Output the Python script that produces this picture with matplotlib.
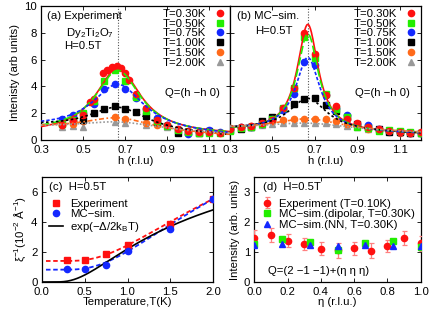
import numpy as np
import matplotlib
matplotlib.use("Agg")
import matplotlib.pyplot as plt

plt.rcParams['font.family'] = ['Liberation Sans', 'DejaVu Sans']
plt.rcParams['mathtext.fontset'] = 'custom'
plt.rcParams['mathtext.rm'] = 'Liberation Sans'
plt.rcParams['mathtext.it'] = 'Liberation Sans:italic'
FS = 8.2

# ---------------- data ----------------
temps = ["T=0.30K", "T=0.50K", "T=0.75K", "T=1.00K", "T=1.50K", "T=2.00K"]
colors = ["#ff1010", "#22ee00", "#1428ff", "#000000", "#ff6a1a", "#999999"]
markers = ["o", "s", "o", "s", "o", "^"]
lstyles = ["-", (0, (5, 2)), (0, (2, 1.2)), (0, (1.5, 1.5)), (0, (3, 1.5, 1, 1.5)), (0, (1, 1.2))]

# panel (a) experiment points
a_h = [
    [0.40, 0.45, 0.50, 0.533, 0.55, 0.597, 0.616, 0.637, 0.66, 0.68, 0.70, 0.72, 0.75, 0.80, 0.85, 0.90, 0.95, 1.00, 1.05, 1.10, 1.15],
    [0.40, 0.45, 0.50, 0.55, 0.60, 0.65, 0.70, 0.75, 0.80, 0.85, 0.90, 0.95, 1.00, 1.05, 1.10, 1.15],
    [0.40, 0.45, 0.50, 0.55, 0.60, 0.65, 0.70, 0.75, 0.80, 0.85, 0.90, 0.95, 1.00, 1.05, 1.10, 1.15],
    [0.45, 0.50, 0.55, 0.60, 0.65, 0.70, 0.75, 0.80, 0.85, 0.95, 1.00, 1.05, 1.10],
    [0.40, 0.45, 0.50, 0.65, 0.70, 0.80, 0.85, 0.90],
    [0.40, 0.45, 0.50, 0.65, 0.70, 0.80, 0.90],
]
a_I = [
    [1.15, 1.45, 1.9, 2.85, 3.05, 4.98, 5.2, 5.45, 5.5, 5.4, 4.98, 4.5, 3.4, 2.4, 1.5, 1.15, 0.85, 0.65, 0.6, 0.6, 0.55],
    [1.2, 1.5, 2.0, 2.9, 4.4, 5.2, 4.4, 3.2, 2.2, 1.45, 1.05, 0.75, 0.6, 0.55, 0.55, 0.55],
    [1.55, 1.85, 2.0, 2.7, 3.8, 4.15, 3.8, 3.1, 2.3, 1.65, 1.1, 0.85, 0.45, 0.6, 0.75, 0.6],
    [1.6, 1.5, 2.05, 2.35, 2.5, 2.3, 2.1, 1.8, 1.35, 0.55, 0.6, 0.55, 0.65],
    [1.1, 1.2, 1.45, 1.7, 1.6, 1.3, 1.15, 1.1],
    [1.0, 1.05, 0.95, 1.35, 1.25, 1.1, 1.0],
]
# Lorentzian fit parameters (panel a): amplitude, hwhm, background at h=0.3, background at h=1.2
a_amp = [4.95, 4.7, 3.5, 1.75, 1.0, 0.65]
a_wid = [0.13, 0.13, 0.15, 0.17, 0.20, 0.25]
a_bg0 = [0.45, 0.6, 0.9, 1.0, 0.9, 0.9]
a_bg1 = [0.35, 0.35, 0.3, 0.25, 0.3, 0.4]

# panel (b) MC simulation points
b_hgrid = [0.30, 0.35, 0.40, 0.45, 0.50, 0.55, 0.60, 0.65, 0.70, 0.75, 0.80, 0.85, 0.90, 0.95, 1.00, 1.05, 1.10, 1.15, 1.20]
b_I = [
    [0.85, 1.0, 1.05, 1.25, 1.5, 2.4, 3.85, 8.0, 6.45, 3.35, 2.5, 1.6, 1.3, 0.95, 0.8, 0.7, 0.6, 0.55, 0.6],
    [0.7, 0.9, 1.0, 1.2, 1.55, 2.4, 3.9, 7.7, 6.1, 3.4, 2.3, 1.7, 1.0, 0.9, 0.7, 0.75, 0.65, 0.6, 0.55],
    [0.8, 0.95, 1.0, 1.2, 1.6, 2.25, 3.45, 5.85, 5.6, 3.35, 2.4, 1.85, 1.2, 1.1, 0.8, 0.7, 0.6, 0.55, 0.5],
    [0.75, 0.8, 1.0, 1.45, 1.75, 2.3, 2.7, 3.05, 3.1, 2.6, 2.15, 1.7, 1.2, 0.95, 0.8, 0.6, 0.6, 0.55, 0.5],
    [0.9, 0.95, 1.05, 1.2, 1.45, 1.5, 1.55, 1.6, 1.6, 1.55, 1.45, 1.2, 1.05, 0.85, 0.75, 0.6, 0.55, 0.55, 0.5],
    [0.85, 0.95, 1.0, 1.1, 1.2, 1.25, 1.25, 1.3, 1.3, 1.25, 1.2, 1.05, 0.95, 0.85, 0.75, 0.65, 0.6, 0.55, 0.5],
]
b_amp = [8.0, 7.3, 5.5, 2.45, 0.9, 0.55]
b_wid = [0.06, 0.062, 0.07, 0.11, 0.20, 0.25]
b_bg0 = [0.75, 0.75, 0.8, 0.8, 0.8, 0.85]
b_bg1 = [0.45, 0.45, 0.45, 0.45, 0.5, 0.5]
h_center = 2.0 / 3.0

# panel (c)
c_T = [0.3, 0.5, 0.75, 1.0, 1.5, 2.0]
c_exp = [1.44, 1.48, 1.88, 2.48, 3.88, 5.55]
c_mc = [0.84, 0.89, 1.11, 2.07, 3.56, 5.55]
# fit parameters: offset + c*exp(-D/T)
c_fit_exp = [1.4, 16.4, 2.75]
c_fit_mc = [0.82, 18.2, 2.7]
c_gap = [10.5, 3.12]   # amplitude, Delta for exp(-Delta/2kT)

# panel (d)
d_eta_exp = [0.0, 0.1, 0.2, 0.3, 0.4, 0.5, 0.6, 0.7, 0.8, 0.9, 1.0]
d_exp = [1.48, 1.57, 1.38, 1.28, 1.11, 1.06, 1.12, 1.05, 1.19, 1.47, 1.30]
d_err = [0.25, 0.23, 0.22, 0.2, 0.22, 0.25, 0.22, 0.24, 0.2, 0.23, 0.25]
d_eta_mc = [0.0, 1/6, 1/3, 0.5, 2/3, 5/6, 1.0]
d_dip = [1.27, 1.44, 1.32, 1.06, 1.29, 1.38, 1.18]
d_nn = [1.22, 1.26, 1.24, 1.20, 1.22, 1.21, 1.20]

# ---------------- figure ----------------
W, H = 436, 317
fig = plt.figure(figsize=(W / 100, H / 100), dpi=100)


def box(x0, x1, ytop, ybot):
    return [x0 / W, 1 - ybot / H, (x1 - x0) / W, (ybot - ytop) / H]


def style(ax):
    ax.tick_params(direction='in', top=True, right=True, labelsize=FS, length=3, width=0.6, pad=2.5)
    ax.tick_params(axis='x', pad=3.5)
    ax.tick_params(axis='y', pad=3)
    for s in ax.spines.values():
        s.set_linewidth(0.9)


def lorentz(h, amp, wid, bg0, bg1):
    bg = bg0 + (bg1 - bg0) * (h - 0.3) / 0.9
    return bg + amp / (1 + ((h - h_center) / wid) ** 2)


hh = np.linspace(0.3, 1.2, 400)

ax_a = fig.add_axes(box(41, 230, 6, 140))
ax_b = fig.add_axes(box(230, 421, 6, 140))
for k, (ax, panel) in enumerate([(ax_a, 'a'), (ax_b, 'b')]):
    ax.axvline(h_center, color='#555555', ls=(0, (1, 1.5)), lw=0.8, zorder=1)
    for i in range(6):
        if panel == 'a':
            xs, ys = a_h[i], a_I[i]
            pars = (a_amp[i], a_wid[i], a_bg0[i], a_bg1[i])
        else:
            xs, ys = b_hgrid, b_I[i]
            pars = (b_amp[i], b_wid[i], b_bg0[i], b_bg1[i])
        ms = 4.5 if markers[i] != '^' else 4
        ax.plot(xs, ys, ls='none', marker=markers[i], color=colors[i], ms=ms,
                label=temps[i], zorder=3 + (6 - i) * 0.1)
        ax.plot(hh, lorentz(hh, *pars), ls=lstyles[i], color=colors[i], lw=1.2, zorder=4)
    ax.set_xlim(0.3, 1.2)
    ax.set_ylim(0, 10)
    ax.set_xticks([0.3, 0.5, 0.7, 0.9, 1.1])
    ax.set_xticklabels(['0.3', '0.5', '0.7', '0.9', '1.1'])
    ax.set_yticks([0, 2, 4, 6, 8, 10])
    style(ax)
    ax.set_xlabel('h (r.l.u)', fontsize=FS, labelpad=1)
    leg = ax.legend(loc='upper right', bbox_to_anchor=(1.0, 1.03), frameon=False, fontsize=FS,
                    markerfirst=False, handlelength=0.6, handletextpad=0.9, labelspacing=-0.02,
                    borderaxespad=0.2)
    ax.text(0.655, 0.33, 'Q=(h \u2212h 0)', transform=ax.transAxes, fontsize=FS)

ax_a.set_ylabel('Intenisty (arb units)', fontsize=FS, labelpad=3)
ax_b.set_yticklabels([])
ax_a.text(0.03, 0.96, '(a) Experiment', transform=ax_a.transAxes, fontsize=FS, va='top')
ax_a.text(0.13, 0.85, 'Dy$_2$Ti$_2$O$_7$', transform=ax_a.transAxes, fontsize=FS, va='top')
ax_a.text(0.12, 0.74, 'H=0.5T', transform=ax_a.transAxes, fontsize=FS, va='top')
ax_b.text(0.035, 0.96, '(b) MC\u2212sim.', transform=ax_b.transAxes, fontsize=FS, va='top')
ax_b.text(0.13, 0.85, 'H=0.5T', transform=ax_b.transAxes, fontsize=FS, va='top')

# panel (c)
ax_c = fig.add_axes(box(41.7, 213.3, 177, 282))
TT = np.linspace(0.05, 2.0, 300)
TT2 = np.linspace(0.02, 2.0, 300)
ax_c.plot(TT, c_fit_exp[0] + c_fit_exp[1] * np.exp(-c_fit_exp[2] / TT), color='#ff1010',
          ls=(0, (2.5, 1.5)), lw=1.3, zorder=2)
ax_c.plot(TT, c_fit_mc[0] + c_fit_mc[1] * np.exp(-c_fit_mc[2] / TT), color='#1428ff',
          ls=(0, (2.5, 1.5)), lw=1.3, zorder=2)
ax_c.plot(c_T, c_exp, ls='none', marker='s', color='#ff1010', ms=4.5, label='Experiment', zorder=3)
ax_c.plot(c_T, c_mc, ls='none', marker='o', color='#1428ff', ms=4.5, label='MC\u2212sim.', zorder=3)
ax_c.plot(TT2, c_gap[0] * np.exp(-c_gap[1] / (2 * TT2)), color='black', lw=1.2,
          label='exp(\u2212\u0394/2k$_\\mathregular{B}$T)', zorder=2)
ax_c.set_xlim(0, 2.0)
ax_c.set_ylim(0, 7)
ax_c.set_xticks([0, 0.5, 1.0, 1.5, 2.0])
ax_c.set_xticklabels(['0.0', '0.5', '1.0', '1.5', '2.0'])
ax_c.set_yticks([0, 2, 4, 6])
style(ax_c)
ax_c.set_xlabel('Temperature,T(K)', fontsize=FS, labelpad=0)
ax_c.set_ylabel('\u03be$^{\\mathregular{-1}}$(10$^{\\mathregular{-2}}$ \u00c5$^{\\mathregular{-1}}$)',
                fontsize=FS, labelpad=2)
ax_c.text(0.04, 0.95, '(c)  H=0.5T', transform=ax_c.transAxes, fontsize=FS, va='top')
ax_c.legend(loc='upper left', bbox_to_anchor=(0.0, 0.86), frameon=False, fontsize=FS,
            handlelength=1.3, handletextpad=0.6, labelspacing=0.05, borderaxespad=0.2)

# panel (d)
ax_d = fig.add_axes(box(254.3, 420.7, 177, 282))
h_exp = ax_d.errorbar(d_eta_exp, d_exp, yerr=d_err, ls='none', marker='o', color='#ff1010', ms=4.5,
                      ecolor='#ff8080', elinewidth=0.9, capsize=1.8, capthick=0.9,
                      label='Experiment (T=0.10K)', zorder=3)
h_dip, = ax_d.plot(d_eta_mc, d_dip, ls='none', marker='s', color='#22ee00', ms=4.5,
                   label='MC\u2212sim.(dipolar, T=0.30K)', zorder=4)
h_nn, = ax_d.plot(d_eta_mc, d_nn, ls='none', marker='^', color='#1428ff', ms=5,
                  label='MC\u2212sim.(NN, T=0.30K)', zorder=5)
ax_d.set_xlim(0, 1.0)
ax_d.set_ylim(0, 3.5)
ax_d.set_xticks([0, 0.2, 0.4, 0.6, 0.8, 1.0])
ax_d.set_xticklabels(['0.0', '0.2', '0.4', '0.6', '0.8', '1.0'])
ax_d.set_yticks([0, 1, 2, 3])
style(ax_d)
ax_d.set_xlabel('\u03b7 (r.l.u.)', fontsize=FS, labelpad=0)
ax_d.set_ylabel('Intensity (arb. units)', fontsize=FS, labelpad=3)
ax_d.text(0.05, 0.95, '(d)  H=0.5T', transform=ax_d.transAxes, fontsize=FS, va='top')
ax_d.text(0.08, 0.08, 'Q=(2 \u22121 \u22121)+(\u03b7 \u03b7 \u03b7)', transform=ax_d.transAxes, fontsize=FS)
ax_d.legend(handles=[h_exp, h_dip, h_nn], loc='upper left', bbox_to_anchor=(0.0, 0.86),
            frameon=False, fontsize=FS, handlelength=1.0, handletextpad=0.6,
            labelspacing=0.05, borderaxespad=0.2)

fig.savefig('out.png', dpi=100)
